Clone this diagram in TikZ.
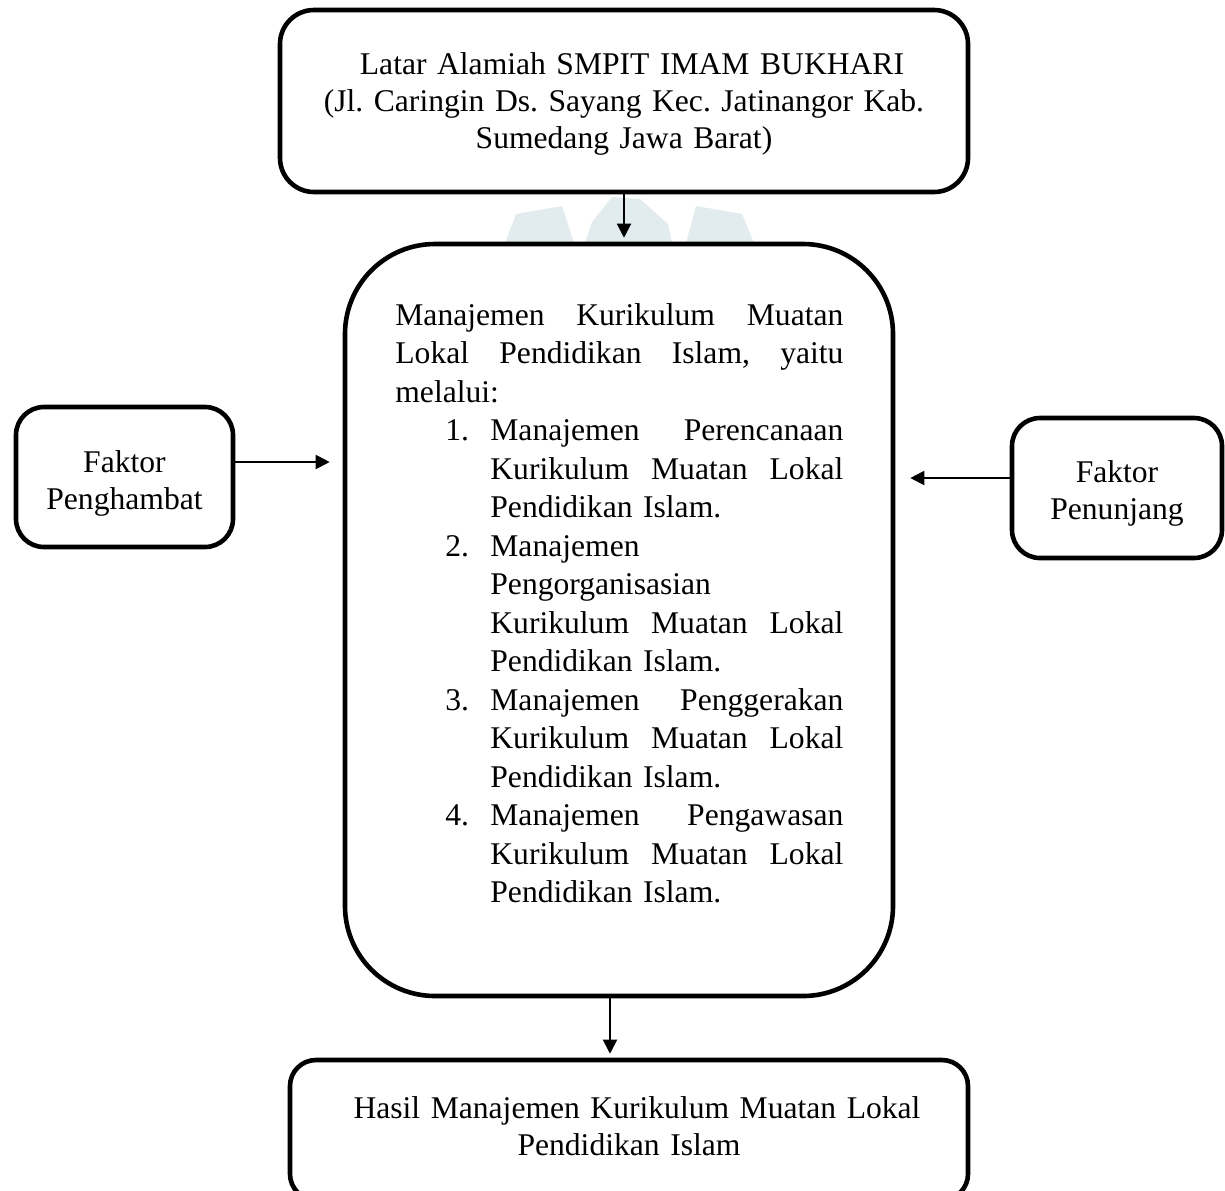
\documentclass[tikz,border=0pt]{standalone}
\usepackage{fontspec}
\setmainfont{Liberation Serif}
\usetikzlibrary{arrows.meta}
\definecolor{wm}{RGB}{226,235,237}
\newcommand\jline[1]{\leavevmode\hbox to 224pt{#1}}
\newcommand\itm[2]{\leavevmode\hspace*{25pt}\makebox[22.5pt][l]{#1}\hbox to 176.5pt{#2}}
\newcommand\itn[2]{\leavevmode\hspace*{25pt}\makebox[22.5pt][l]{#1}#2}
\newcommand\itc[1]{\leavevmode\hspace*{47.5pt}#1}
\begin{document}
\frenchspacing
\begin{tikzpicture}[x=0.5pt,y=-0.5pt,
  box/.style={draw=black, fill=white, line width=2.3pt, inner sep=0pt},
  txt/.style={inner sep=0pt, align=center, font=\fontsize{15.8}{18.5}\selectfont},
  arr/.style={line width=1pt, -{Triangle[length=7pt,width=7pt]}}]
\useasboundingbox (0,0) rectangle (1225,1190);
% faint watermark
\fill[wm] (585,243) -- (592,222) -- (612,197) -- (640,199) -- (668,224) -- (672,243) -- cycle;
\fill[wm] (505,243) -- (516,214) -- (562,206) -- (574,243) -- cycle;
\fill[wm] (686,243) -- (696,206) -- (742,214) -- (754,243) -- cycle;
% boxes
\node[box, rounded corners=17pt, minimum width=344pt, minimum height=91pt] (top) at (624,101) {};
\node[box, rounded corners=45pt, minimum width=274pt, minimum height=376pt] (main) at (619,620) {};
\node[box, rounded corners=14pt, minimum width=108.5pt, minimum height=70pt] (left) at (124.5,477) {};
\node[box, rounded corners=14pt, minimum width=105pt, minimum height=70pt] (right) at (1117,488) {};
\node[box, rounded corners=13pt, minimum width=339pt, minimum height=70pt] (bottom) at (629,1130) {};
% texts
\node[txt, anchor=base, text width=340pt] (toptxt) at (624,74)
  {\hspace*{8pt}Latar Alamiah SMPIT IMAM BUKHARI\\(Jl. Caringin Ds. Sayang Kec. Jatinangor Kab.\\Sumedang Jawa Barat)};
\node[txt, anchor=base, text width=105pt] (lefttxt) at (124.5,472) {Faktor\\Penghambat};
\node[txt, anchor=base, text width=105pt] (righttxt) at (1117,482) {Faktor\\Penunjang};
\node[txt, anchor=base, text width=335pt] (bottomtxt) at (629,1118)
  {\hspace*{8pt}Hasil Manajemen Kurikulum Muatan Lokal\\Pendidikan Islam};
\node[inner sep=0pt, anchor=base west, text width=225pt, align=left,
      font=\fontsize{15.8}{19.25}\selectfont] (maintxt) at (395,325) {%
\jline{Manajemen\hfill Kurikulum\hfill Muatan}\\
\jline{Lokal\hfill Pendidikan\hfill Islam,\hfill yaitu}\\
melalui:\\
\itm{1.}{Manajemen\hfill Perencanaan}\\
\itm{}{Kurikulum\hfill Muatan\hfill Lokal}\\
\itc{Pendidikan Islam.}\\
\itn{2.}{Manajemen}\\
\itc{Pengorganisasian}\\
\itm{}{Kurikulum\hfill Muatan\hfill Lokal}\\
\itc{Pendidikan Islam.}\\
\itm{3.}{Manajemen\hfill Penggerakan}\\
\itm{}{Kurikulum\hfill Muatan\hfill Lokal}\\
\itc{Pendidikan Islam.}\\
\itm{4.}{Manajemen\hfill Pengawasan}\\
\itm{}{Kurikulum\hfill Muatan\hfill Lokal}\\
\itc{Pendidikan Islam.}};
% connectors
\coordinate (hl) at (0,462);
\coordinate (hr) at (0,478);
\coordinate (vb) at (610,0);
\draw[arr, shorten >=2pt] (top.south) -- (top.south |- main.north);
\draw[arr, shorten >=6.5pt] (left.east |- hl) -- (main.west |- hl);
\draw[arr, shorten >=7.5pt] (right.west |- hr) -- (main.east |- hr);
\draw[arr, shorten >=2pt] (main.south -| vb) -- (bottom.north -| vb);
\end{tikzpicture}
\end{document}
